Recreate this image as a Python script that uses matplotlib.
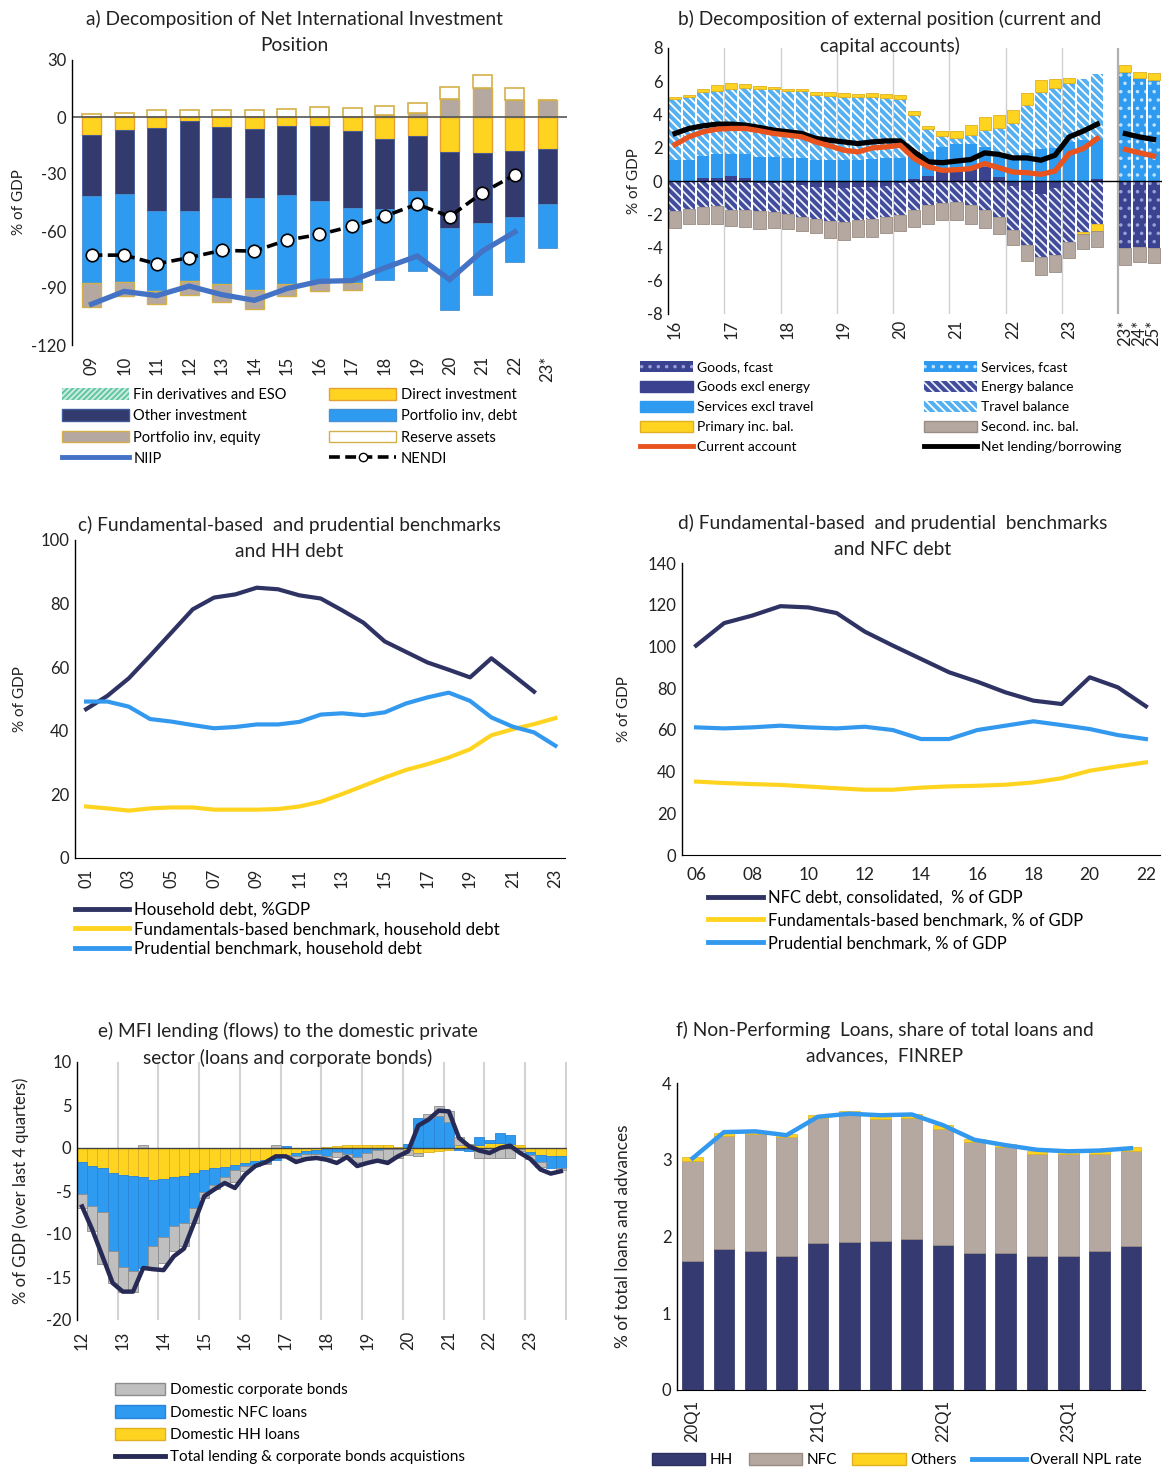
import numpy as np
import matplotlib
matplotlib.use("Agg")
import matplotlib.pyplot as plt
from matplotlib.patches import Patch
from matplotlib.lines import Line2D

plt.rcParams['font.family'] = ['Lato', 'DejaVu Sans']
plt.rcParams['hatch.linewidth'] = 1.3
plt.rcParams['axes.unicode_minus'] = False

NAVY = '#333A6E'
BLUE = '#2E9AF0'
YELLOW = '#FFD420'
GOLD = '#E0B020'
TAUPE = '#B5A8A0'
GREY = '#BFBFBF'
ORANGE = '#E8531E'
NIIP_C = '#4472C4'
TXT = '#222222'

# ---------------- a) NIIP decomposition ----------------
a_years = ['09', '10', '11', '12', '13', '14', '15', '16', '17', '18', '19', '20', '21', '22', '23*']
a_findev = [0, 0, 0, 0, 0, 0, 0, 0, 0, 0, 0, 0, 0, 0, 0]
a_direct = [-9.4, -7.0, -5.8, -2.3, -5.3, -6.2, -4.8, -4.8, -7.4, -11.5, -10.0, -18.5, -18.9, -18.0, -16.9]
a_other = [-32.1, -33.6, -43.6, -47.1, -37.4, -36.2, -36.3, -39.3, -40.6, -37.0, -29.2, -39.7, -36.7, -34.4, -29.0]
a_pdebt = [-45.9, -46.4, -42.4, -37.1, -45.0, -48.5, -46.8, -42.0, -39.4, -37.4, -42.0, -43.3, -38.3, -24.0, -23.3]
a_pequity = [-12.8, -7.4, -6.5, -7.4, -9.9, -10.0, -6.5, -5.7, -3.8, 0.9, 2.3, 9.5, 15.4, 9.2, 8.8]
a_reserve = [1.8, 2.3, 3.9, 3.9, 3.9, 3.9, 4.4, 5.3, 4.9, 5.1, 5.3, 6.4, 6.8, 6.2, 0.0]
a_niip = [-98.5, -91.8, -94.0, -89.0, -93.5, -96.5, -90.3, -86.5, -86.1, -79.4, -73.2, -85.6, -70.6, -60.5, np.nan]
a_nendi = [-72.7, -72.7, -77.3, -74.0, -70.2, -70.6, -64.8, -61.8, -57.5, -52.2, -45.9, -52.4, -39.9, -30.4, np.nan]

# ---------------- b) external position (quarterly 16Q1-23Q3 + forecasts) ----------------
b_goods = [-0.05, -0.05, 0.2, 0.2, 0.3, 0.2, -0.1, -0.1, -0.15, -0.25, -0.35, -0.4, -0.45, -0.35, -0.35, -0.3,
           -0.15, 0.1, 0.3, 0.6, 0.75, 0.7, 0.85, 0.25, -0.3, -0.56, -0.8, -0.45, 0.0, 0.0, 0.1]
b_services = [1.25, 1.29, 1.29, 1.41, 1.35, 1.41, 1.45, 1.45, 1.41, 1.37, 1.29, 1.25, 1.25, 1.25, 1.33, 1.39,
              1.41, 1.65, 1.45, 1.45, 1.5, 1.55, 1.2, 1.2, 1.4, 1.7, 1.93, 2.01, 2.35, 2.45, 2.4]
b_travel = [3.70, 3.78, 3.84, 3.82, 3.86, 3.96, 4.08, 4.06, 4.02, 4.04, 3.88, 3.88, 3.82, 3.78, 3.70, 3.62,
            3.52, 2.21, 1.37, 0.67, 0.31, 0.51, 1.01, 1.71, 2.1, 2.87, 3.4, 3.6, 3.57, 3.67, 3.94]
b_energy = [-1.78, -1.66, -1.57, -1.51, -1.73, -1.73, -1.71, -1.79, -1.82, -1.92, -1.92, -2.03, -2.02, -1.98, -1.96, -1.87,
            -1.88, -1.73, -1.47, -1.33, -1.27, -1.47, -1.77, -2.17, -2.64, -3.26, -3.79, -3.98, -3.64, -3.08, -2.58]
b_primary = [0.12, 0.12, 0.18, 0.34, 0.37, 0.27, 0.2, 0.12, 0.12, 0.1, 0.16, 0.2, 0.24, 0.2, 0.26, 0.22,
             0.22, 0.23, 0.2, 0.3, 0.46, 0.6, 0.8, 0.78, 0.8, 0.74, 0.75, 0.51, 0.26, -0.12, -0.4]
b_second = [-0.99, -0.87, -1.01, -1.07, -0.99, -1.05, -1.07, -0.93, -0.93, -0.81, -0.87, -1.01, -1.07, -1.05, -1.07, -0.97,
            -0.99, -1.05, -1.11, -1.04, -1.1, -1.11, -1.05, -1.01, -0.93, -0.97, -1.06, -1.06, -0.99, -0.92, -1.0]
b_nlb = [2.86, 3.16, 3.32, 3.42, 3.42, 3.36, 3.22, 3.06, 2.96, 2.86, 2.56, 2.45, 2.35, 2.25, 2.35, 2.41,
         2.41, 1.75, 1.15, 1.1, 1.2, 1.29, 1.69, 1.6, 1.39, 1.39, 1.25, 1.55, 2.65, 3.0, 3.42]
b_ca = [2.19, 2.66, 2.96, 3.12, 3.16, 3.16, 3.02, 2.86, 2.76, 2.66, 2.35, 2.11, 1.85, 1.75, 1.99, 2.05,
        2.15, 1.35, 0.85, 0.64, 0.68, 0.74, 1.05, 0.8, 0.54, 0.5, 0.4, 0.6, 1.65, 1.95, 2.56]
b_year_labels = ['16', '17', '18', '19', '20', '21', '22', '23']
b_fc_labels = ['23*', '24*', '25*']
b_goods_fc = [-4.02, -3.94, -4.02]
b_services_fc = [6.54, 6.18, 6.08]
b_primary_fc = [0.44, 0.40, 0.44]
b_second_fc = [-1.01, -0.95, -0.93]
b_nlb_fc = [2.85, 2.65, 2.5]
b_ca_fc = [1.9, 1.7, 1.5]

# ---------------- c) household debt ----------------
c_years = list(range(1, 24))
c_hh = [46.8, 51.0, 56.5, 63.6, 70.9, 78.2, 81.9, 82.9, 85.0, 84.5, 82.6, 81.6, 77.9, 74.0, 68.1, 64.8,
        61.5, 59.2, 56.8, 62.8, 57.6, 52.3, np.nan]
c_fund = [16.2, 15.6, 14.9, 15.6, 15.9, 15.9, 15.2, 15.2, 15.2, 15.4, 16.2, 17.7, 20.1, 22.7, 25.3, 27.7,
          29.5, 31.6, 34.2, 38.6, 40.5, 42.1, 44.0]
c_prud = [49.2, 49.2, 47.6, 43.7, 42.9, 41.8, 40.8, 41.2, 42.0, 42.0, 42.8, 45.1, 45.5, 44.9, 45.8, 48.6,
          50.5, 52.0, 49.4, 44.2, 41.3, 39.5, 35.3]

# ---------------- d) NFC debt ----------------
d_years = list(range(6, 23))
d_nfc = [100.4, 111.2, 114.8, 119.3, 118.7, 116.0, 107.1, 100.4, 94.0, 87.6, 83.1, 78.0, 74.0, 72.4, 85.2, 80.4, 71.3]
d_fund = [35.2, 34.5, 34.0, 33.6, 32.8, 32.0, 31.3, 31.3, 32.3, 32.9, 33.2, 33.7, 34.8, 36.8, 40.4, 42.5, 44.4]
d_prud = [61.2, 60.7, 61.2, 62.0, 61.2, 60.7, 61.5, 59.9, 55.6, 55.6, 59.9, 62.0, 64.1, 62.3, 60.4, 57.5, 55.6]

# ---------------- e) MFI lending flows (12Q1-23Q4) ----------------
e_year_labels = ['12', '13', '14', '15', '16', '17', '18', '19', '20', '21', '22', '23']
e_hh = [-1.63, -2.13, -2.33, -2.9, -3.1, -3.2, -3.4, -3.7, -3.6, -3.4, -3.2, -2.9, -2.5, -2.33, -2.2, -2.0,
        -1.75, -1.55, -1.35, -1.05, -0.78, -0.6, -0.4, -0.2, 0.1, 0.2, 0.3, 0.3, 0.3, 0.3, 0.3, 0.1,
        -0.2, -0.6, -0.5, -0.4, -0.2, 0.3, 0.3, 0.3, 0.6, 0.6, 0.5, 0.3, -0.5, -0.8, -0.9, -0.9]
e_nfc = [-3.67, -4.57, -5.11, -9.1, -10.7, -11.1, -10.6, -7.7, -6.7, -5.7, -5.5, -4.1, -2.65, -1.93, -1.2, -0.6,
         -0.3, -0.4, -0.4, -0.3, 0.2, -0.3, -0.3, -0.5, -0.9, -0.5, -0.7, -1.0, -0.6, -0.2, -0.1, -0.1,
         0.5, 3.5, 3.5, 3.7, 3.0, -0.2, -0.4, 1.0, 0.3, 1.1, 1.0, -0.1, -0.3, -0.8, -1.4, -1.4]
e_bonds = [-1.68, -3.0, -6.06, -3.7, -3.0, -2.5, 0.35, -2.7, -3.1, -2.9, -2.7, -1.7, -0.65, -0.54, -0.67, -1.3,
           -0.65, -0.15, -0.15, 0.3, -0.3, -0.4, -0.4, -0.3, -0.3, -0.6, -0.3, -0.6, -1.2, -1.3, -1.3, -1.1,
           -0.6, -0.3, 0.5, 1.15, 1.3, 1.0, 0.2, -1.2, -1.2, -1.2, -1.2, -0.3, -0.5, -0.6, 0.0, -0.2]
e_total = [-6.8, -9.5, -12.6, -15.7, -16.7, -16.7, -13.95, -14.1, -14.2, -12.6, -11.7, -8.7, -5.6, -4.8, -4.07, -4.65,
           -3.1, -2.1, -1.67, -0.97, -0.97, -1.63, -1.28, -1.16, -1.36, -1.74, -1.05, -2.1, -1.74, -1.47, -1.74, -0.97,
           -0.39, 2.6, 3.3, 4.34, 4.26, 1.16, 0.2, -0.3, -0.58, 0.0, 0.27, -0.58, -1.28, -2.5, -2.98, -2.7]

# ---------------- f) NPL ----------------
f_quarters = ['20Q1', '20Q2', '20Q3', '20Q4', '21Q1', '21Q2', '21Q3', '21Q4',
              '22Q1', '22Q2', '22Q3', '22Q4', '23Q1', '23Q2', '23Q3']
f_hh = [1.68, 1.84, 1.81, 1.75, 1.91, 1.93, 1.94, 1.97, 1.89, 1.79, 1.79, 1.74, 1.75, 1.81, 1.87]
f_nfc = [1.31, 1.47, 1.52, 1.54, 1.63, 1.67, 1.59, 1.58, 1.51, 1.44, 1.37, 1.33, 1.32, 1.27, 1.24]
f_others = [0.04, 0.04, 0.03, 0.04, 0.04, 0.03, 0.04, 0.04, 0.05, 0.04, 0.04, 0.04, 0.03, 0.04, 0.05]
f_npl = [3.02, 3.36, 3.37, 3.32, 3.56, 3.60, 3.58, 3.59, 3.45, 3.26, 3.19, 3.13, 3.11, 3.12, 3.15]


def stack(ax, x, series, width, styles):
    pos = np.zeros(len(x))
    neg = np.zeros(len(x))
    for vals, st in zip(series, styles):
        v = np.asarray(vals, float)
        ax.bar(x, v, width, bottom=np.where(v >= 0, pos, neg), **st)
        pos = pos + np.where(v > 0, v, 0)
        neg = neg + np.where(v < 0, v, 0)


def style(ax, bottom=False, xpad=4):
    for s in ['top', 'right']:
        ax.spines[s].set_visible(False)
    ax.spines['bottom'].set_visible(bottom)
    ax.spines['left'].set_linewidth(1.0)
    ax.tick_params(length=0, labelsize=12, labelcolor=TXT, pad=4)
    ax.tick_params(axis='x', pad=xpad)


W, H = 1166, 1470
fig = plt.figure(figsize=(W / 100, H / 100), dpi=100)


def axes_px(l, t, r, b):
    return fig.add_axes([l / W, 1 - b / H, (r - l) / W, (b - t) / H])


def title(x, y, s):
    fig.text(x / W, 1 - y / H, s, ha='center', va='top', fontsize=13.8, color=TXT, linespacing=1.62)


def leg_kw(size, spacing, hl):
    return dict(frameon=False, fontsize=size, handlelength=hl, handleheight=0.85,
                labelspacing=spacing, borderpad=0, borderaxespad=0, handletextpad=0.3)


# ===== panel a =====
ax = axes_px(72, 60, 567, 345)
xa = np.arange(len(a_years))
st_a = [dict(color='#C8EBDD', hatch='//////', edgecolor='#5CC4A0', lw=0),
        dict(color=YELLOW, edgecolor='#E8A030', lw=1),
        dict(color=NAVY, edgecolor='#3D5A9A', lw=0.6),
        dict(color=BLUE, edgecolor='#4A90D0', lw=0.6),
        dict(color=TAUPE, edgecolor='#D4B04A', lw=1),
        dict(color='white', edgecolor='#D4B04A', lw=1.2)]
stack(ax, xa, [a_findev, a_direct, a_other, a_pdebt, a_pequity, a_reserve], 0.58, st_a)
ax.axhline(0, color='#555555', lw=1.2)
ax.plot(xa, a_niip, color=NIIP_C, lw=3.8, solid_joinstyle='miter')
ax.plot(xa, a_nendi, color='black', lw=2.6, ls=(0, (3, 1.5)), marker='o', ms=9,
        mfc='white', mec='black', mew=1.2)
ax.set_xlim(-0.6, 14.6)
ax.set_ylim(-120, 30)
ax.set_yticks(range(-120, 31, 30))
ax.set_xticks(xa)
ax.set_xticklabels(a_years, rotation=90)
style(ax, xpad=8)
ax.set_ylabel('% of GDP', fontsize=11, color=TXT, labelpad=4)
title(294, 10, 'a) Decomposition of Net International Investment\nPosition')
h_a = [Patch(facecolor='#C8EBDD', hatch='//////', edgecolor='#5CC4A0', lw=0),
       Patch(facecolor=NAVY, edgecolor='#3D5A9A'),
       Patch(facecolor=TAUPE, edgecolor='#D4B04A'),
       Line2D([], [], color=NIIP_C, lw=3.5),
       Patch(facecolor=YELLOW, edgecolor='#E8A030'),
       Patch(facecolor=BLUE, edgecolor='#4A90D0'),
       Patch(facecolor='white', edgecolor='#D4B04A'),
       Line2D([], [], color='black', lw=2.6, ls=(0, (3, 1.5)), marker='o', ms=6, mfc='white', mec='black')]
l_a = ['Fin derivatives and ESO', 'Other investment', 'Portfolio inv, equity', 'NIIP',
       'Direct investment', 'Portfolio inv, debt', 'Reserve assets', 'NENDI']
fig.legend(h_a, l_a, loc='upper left', bbox_to_anchor=(62 / W, 1 - 388 / H), ncol=2,
           columnspacing=2.9, **leg_kw(10.5, 0.5, 4.6))

# ===== panel b =====
ax = axes_px(668, 48, 1162, 314)
xb = np.arange(len(b_goods))
xf = np.arange(len(b_goods) + 1, len(b_goods) + 4)
for k in range(1, 8):
    ax.axvline(4 * k - 0.5, color='#D0D0D0', lw=1, zorder=0)
ax.axvline(31.5, color='#B0B0B0', lw=1.6, zorder=0)
EN_HATCH = dict(color='#424C9C', hatch='\\\\\\\\', edgecolor='#ECEEF8', lw=0)
TR_HATCH = dict(color='#55B0F2', hatch='\\\\\\\\', edgecolor='white', lw=0)
st_b = [dict(color='#3B4390', lw=0),
        dict(color=BLUE, lw=0),
        TR_HATCH,
        EN_HATCH,
        dict(color=YELLOW, edgecolor=GOLD, lw=0.6),
        dict(color=TAUPE, edgecolor='#9A8C84', lw=0.6)]
stack(ax, xb, [b_goods, b_services, b_travel, b_energy, b_primary, b_second], 0.86, st_b)
st_fc = [dict(color='#3B4390', hatch='..', edgecolor='#9AA0D8', lw=0),
         dict(color=BLUE, hatch='..', edgecolor='#BFE3FF', lw=0),
         dict(color=YELLOW, edgecolor=GOLD, lw=0.6),
         dict(color=TAUPE, edgecolor='#9A8C84', lw=0.6)]
stack(ax, xf, [b_goods_fc, b_services_fc, b_primary_fc, b_second_fc], 0.86, st_fc)
ax.axhline(0, color='black', lw=1)
ax.plot(xb, b_nlb, color='black', lw=3.8)
ax.plot(xb, b_ca, color=ORANGE, lw=3.8)
ax.plot(xf, b_nlb_fc, color='black', lw=3.8)
ax.plot(xf, b_ca_fc, color=ORANGE, lw=3.8)
ax.set_xlim(-0.5, 34.6)
ax.set_ylim(-8, 8)
ax.set_yticks(range(-8, 9, 2))
ax.set_xticks(list(range(0, 32, 4)) + list(xf))
ax.set_xticklabels(b_year_labels + b_fc_labels, rotation=90)
style(ax)
ax.set_ylabel('% of GDP', fontsize=11, color=TXT)
title(890, 10, 'b) Decomposition of external position (current and\ncapital accounts)')
h_b = [Patch(facecolor='#3B4390', hatch='..', edgecolor='#9AA0D8', lw=0),
       Patch(facecolor='#3B4390', edgecolor='#3B4390'),
       Patch(facecolor=BLUE, edgecolor=BLUE),
       Patch(facecolor=YELLOW, edgecolor=GOLD),
       Line2D([], [], color=ORANGE, lw=3.5),
       Patch(facecolor=BLUE, hatch='..', edgecolor='#BFE3FF', lw=0),
       Patch(facecolor='#424C9C', hatch='\\\\\\\\', edgecolor='#ECEEF8', lw=0),
       Patch(facecolor='#55B0F2', hatch='\\\\\\\\', edgecolor='white', lw=0),
       Patch(facecolor=TAUPE, edgecolor='#9A8C84'),
       Line2D([], [], color='black', lw=3.5)]
l_b = ['Goods, fcast', 'Goods excl energy', 'Services excl travel', 'Primary inc. bal.', 'Current account',
       'Services, fcast', 'Energy balance', 'Travel balance', 'Second. inc. bal.', 'Net lending/borrowing']
fig.legend(h_b, l_b, loc='upper left', bbox_to_anchor=(640 / W, 1 - 361 / H), ncol=2,
           columnspacing=8.0, **leg_kw(10, 0.55, 3.8))

# ===== panel c =====
ax = axes_px(75, 540, 565, 858)
HHC = '#2F3363'
PRC = '#3399EE'
ax.plot(c_years, c_hh, color=HHC, lw=3)
ax.plot(c_years, c_fund, color=YELLOW, lw=3)
ax.plot(c_years, c_prud, color=PRC, lw=3)
ax.set_xlim(0.48, 23.45)
ax.set_ylim(0, 100)
ax.set_yticks(range(0, 101, 20))
ax.set_xticks(c_years[::2])
ax.set_xticklabels(['%02d' % y for y in c_years[::2]], rotation=90)
style(ax, bottom=True, xpad=8)
ax.set_ylabel('% of GDP', fontsize=11, color=TXT, labelpad=10)
title(289, 516, 'c) Fundamental-based  and prudential benchmarks\nand HH debt')
h_c = [Line2D([], [], color=HHC, lw=3.5), Line2D([], [], color=YELLOW, lw=3.5), Line2D([], [], color=PRC, lw=3.5)]
fig.legend(h_c, ['Household debt, %GDP', 'Fundamentals-based benchmark, household debt',
                 'Prudential benchmark, household debt'],
           loc='upper left', bbox_to_anchor=(75 / W, 1 - 902 / H), **leg_kw(12.2, 0.21, 3.2))

# ===== panel d =====
ax = axes_px(682, 563, 1160, 855)
ax.plot(d_years, d_nfc, color=HHC, lw=3)
ax.plot(d_years, d_fund, color=YELLOW, lw=3)
ax.plot(d_years, d_prud, color=PRC, lw=3)
ax.set_xlim(5.5, 22.5)
ax.set_ylim(0, 140)
ax.set_yticks(range(0, 141, 20))
ax.set_xticks(d_years[::2])
ax.set_xticklabels(['%02d' % y for y in d_years[::2]])
style(ax, bottom=True, xpad=9)
ax.tick_params(axis='x', labelsize=12.5)
ax.set_ylabel('% of GDP', fontsize=11, color=TXT, labelpad=12)
title(893, 514, 'd) Fundamental-based  and prudential  benchmarks\nand NFC debt')
fig.legend(h_c, ['NFC debt, consolidated,  % of GDP', 'Fundamentals-based benchmark, % of GDP',
                 'Prudential benchmark, % of GDP'],
           loc='upper left', bbox_to_anchor=(708 / W, 1 - 890 / H), **leg_kw(11.9, 0.4, 3.3))

# ===== panel e =====
ax = axes_px(77, 1062, 567, 1320)
xe = np.arange(len(e_hh))
for k in range(1, 13):
    ax.axvline(4 * k - 0.5, color='#D3D3D3', lw=1.5, zorder=0)
st_e = [dict(color=YELLOW, edgecolor=GOLD, lw=0.6),
        dict(color=BLUE, edgecolor='#2A85D8', lw=0.6),
        dict(color=GREY, edgecolor='#8C8C8C', lw=0.6)]
stack(ax, xe, [e_hh, e_nfc, e_bonds], 1.0, st_e)
ax.axhline(0, color='#444444', lw=1)
ax.plot(xe, e_total, color='#262A55', lw=3.2)
ax.set_xlim(-0.5, 47.6)
ax.set_ylim(-20, 10)
ax.set_yticks(range(-20, 11, 5))
ax.set_xticks(range(0, 48, 4))
ax.set_xticklabels(e_year_labels, rotation=90)
style(ax, xpad=8)
ax.set_ylabel('% of GDP (over last 4 quarters)', fontsize=12, color=TXT, labelpad=12)
title(288, 1022, 'e) MFI lending (flows) to the domestic private\nsector (loans and corporate bonds)')
h_e = [Patch(facecolor=GREY, edgecolor='#8C8C8C'), Patch(facecolor=BLUE, edgecolor='#2A85D8'),
       Patch(facecolor=YELLOW, edgecolor=GOLD), Line2D([], [], color='#262A55', lw=3.5)]
fig.legend(h_e, ['Domestic corporate bonds', 'Domestic NFC loans', 'Domestic HH loans',
                 'Total lending & corporate bonds acquistions'],
           loc='upper left', bbox_to_anchor=(115 / W, 1 - 1383 / H), **leg_kw(11, 0.52, 3.3))

# ===== panel f =====
ax = axes_px(677, 1083, 1145, 1390)
xq = np.arange(len(f_hh))
st_f = [dict(color='#353A70', edgecolor='#2A2F60', lw=0.5),
        dict(color=TAUPE, edgecolor='#9A8C84', lw=0.5),
        dict(color=YELLOW, edgecolor=GOLD, lw=0.5)]
stack(ax, xq, [f_hh, f_nfc, f_others], 0.66, st_f)
ax.plot(xq, f_npl, color=PRC, lw=3.2)
ax.set_xlim(-0.5, 14.45)
ax.set_ylim(0, 4)
ax.set_yticks(range(0, 5))
ax.set_xticks(xq[::4])
ax.set_xticklabels(f_quarters[::4], rotation=90)
style(ax, bottom=True, xpad=7)
ax.set_ylabel('% of total loans and advances', fontsize=12.4, color=TXT, labelpad=22)
title(885, 1021, 'f) Non-Performing  Loans, share of total loans and\nadvances,  FINREP')
h_f = [Patch(facecolor='#353A70', edgecolor='#2A2F60'), Patch(facecolor=TAUPE, edgecolor='#9A8C84'),
       Patch(facecolor=YELLOW, edgecolor=GOLD), Line2D([], [], color=PRC, lw=3.5)]
fig.legend(h_f, ['HH', 'NFC', 'Others', 'Overall NPL rate'], loc='upper left',
           bbox_to_anchor=(652 / W, 1 - 1453 / H), ncol=4, columnspacing=1.0,
           **leg_kw(11, 0.2, 3.5))

fig.savefig('out.png', dpi=100, facecolor='white')
